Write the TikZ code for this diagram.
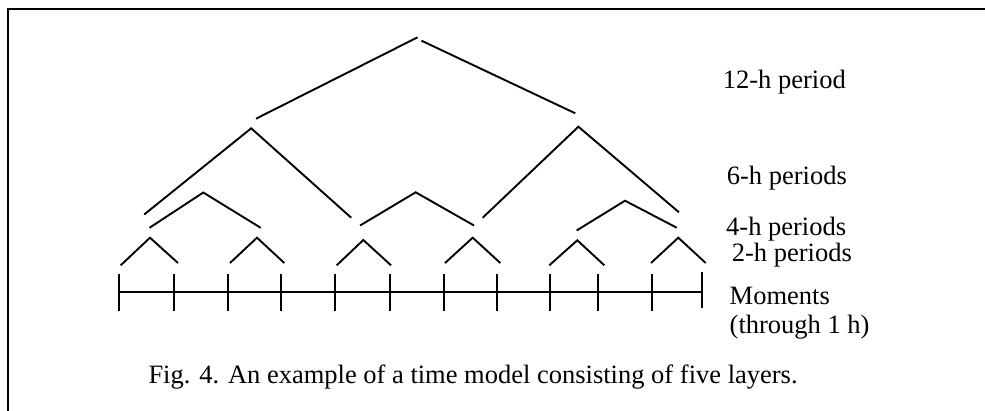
\documentclass[tikz,border=0pt]{standalone}
\usepackage{fontspec}
\setmainfont{Liberation Serif}
\begin{document}
\begin{tikzpicture}[x=1pt,y=-1pt,
  branch/.style={line width=1.9pt},
  frameline/.style={line width=2.2pt},
  lbl/.style={anchor=base west,inner sep=0pt,font=\fontsize{26.5}{32}\selectfont}]
\useasboundingbox (0,0) rectangle (985,410);
\fill[white] (0,0) rectangle (985,410);
% frame
\coordinate (fb) at (7.7,412);
\coordinate (ftl) at (7.7,9.3);
\coordinate (fr) at (987,9.3);
\draw[frameline] (fb) -- (ftl) -- (fr);
% 12-h period
\coordinate (a1) at (256,118.7);  \coordinate (a2) at (417.6,37.3);
\coordinate (a3) at (421.5,40.7); \coordinate (a4) at (575.3,113.3);
\draw[branch] (a1) -- (a2);
\draw[branch] (a3) -- (a4);
% 6-h periods
\coordinate (b1) at (144.2,214.5); \coordinate (b2) at (251.2,128.3); \coordinate (b3) at (351.2,217.7);
\coordinate (b4) at (482.7,217.7); \coordinate (b5) at (578.4,126.7); \coordinate (b6) at (679,212.3);
\draw[branch] (b1) -- (b2) -- (b3);
\draw[branch] (b4) -- (b5) -- (b6);
% 4-h periods
\coordinate (c1) at (149.5,227.8); \coordinate (c2) at (203.3,192.5); \coordinate (c3) at (260.7,227.8);
\coordinate (c4) at (360.1,225.5); \coordinate (c5) at (415.7,192.3); \coordinate (c6) at (474,225.5);
\coordinate (c7) at (576.6,230.5); \coordinate (c8) at (625,200.7);   \coordinate (c9) at (676.7,227.7);
\draw[branch] (c1) -- (c2) -- (c3);
\draw[branch] (c4) -- (c5) -- (c6);
\draw[branch] (c7) -- (c8) -- (c9);
% 2-h periods
\coordinate (d1) at (120.7,265.3); \coordinate (d2) at (150,237.7);   \coordinate (d3) at (178,263);
\coordinate (d4) at (230,263);     \coordinate (d5) at (257,237.7);   \coordinate (d6) at (284.3,263);
\coordinate (d7) at (336.7,265.3); \coordinate (d8) at (363.3,240);   \coordinate (d9) at (391,265.3);
\coordinate (d10) at (445,263);    \coordinate (d11) at (472.7,237.7); \coordinate (d12) at (500.3,263);
\coordinate (d13) at (549.3,265.3); \coordinate (d14) at (577.3,240.3); \coordinate (d15) at (604.3,265.3);
\coordinate (d16) at (651,263);    \coordinate (d17) at (678.3,237.7); \coordinate (d18) at (705.7,263);
\draw[branch] (d1) -- (d2) -- (d3);
\draw[branch] (d4) -- (d5) -- (d6);
\draw[branch] (d7) -- (d8) -- (d9);
\draw[branch] (d10) -- (d11) -- (d12);
\draw[branch] (d13) -- (d14) -- (d15);
\draw[branch] (d16) -- (d17) -- (d18);
% moments timeline
\coordinate (t0) at (118.7,291.7);
\coordinate (t1) at (702.3,291.7);
\draw[branch] (t0) -- (t1);
\foreach \x in {118.7,174.3,227.7,281.3,334.7,390.3,443.7,497.3,549.8,598.3,651.7}{
  \draw[branch] (\x,274.3) -- (\x,311);
}
\coordinate (tt) at (702.3,271.7); \coordinate (tb) at (702.3,308.3);
\draw[branch] (tt) -- (tb);
% labels
\node[lbl] (l12) at (722.7,88.5) {12-h period};
\node[lbl] (l6) at (726.7,184) {6-h periods};
\node[lbl] (l4) at (726,235.5) {4-h periods};
\node[lbl] (l2) at (731.7,261.5) {2-h periods};
\node[lbl] (lm) at (729.5,304) {Moments};
\node[lbl] (lt) at (729.5,333.5) {(through 1 h)};
\node[lbl] (cap) at (148.3,383) {Fig. 4. An example of a time model consisting of five layers.};
\end{tikzpicture}
\end{document}
